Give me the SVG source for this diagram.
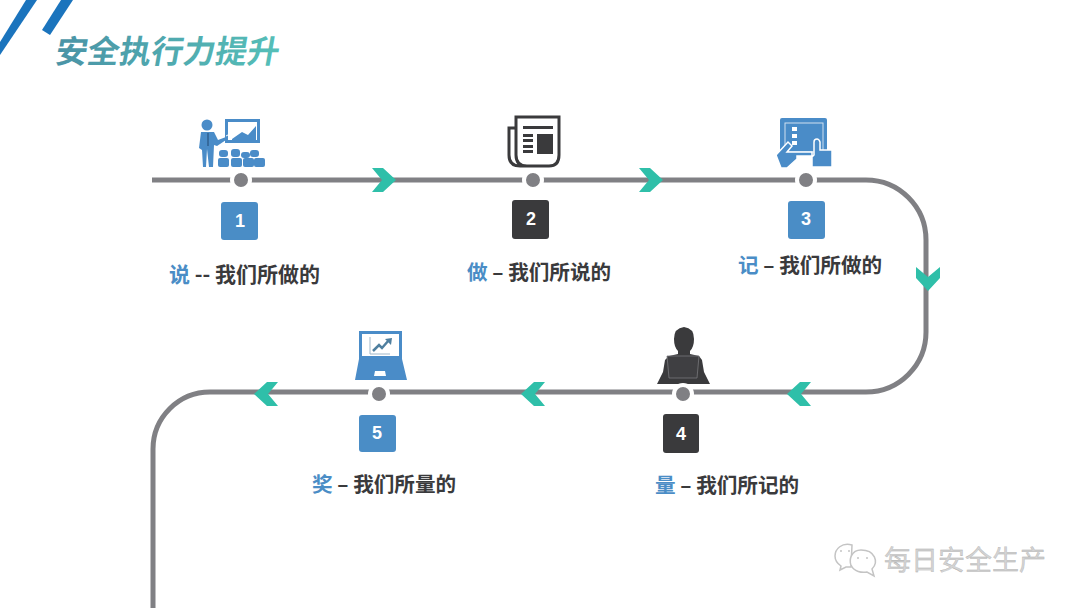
<svg xmlns="http://www.w3.org/2000/svg" width="1080" height="608" viewBox="0 0 1080 608">
<defs>
<linearGradient id="tg" x1="0" y1="0" x2="1" y2="0"><stop offset="0" stop-color="#4a93a6"/><stop offset="1" stop-color="#55bfb8"/></linearGradient>
<path id="chev" d="M-12,-12 H-1 L12,0 L-1,12 H-12 L-2,0 Z"/>
</defs>
<style>
text{font-family:"Liberation Sans","Noto Sans CJK SC",sans-serif}
.cjk{font-family:"Noto Sans CJK SC",sans-serif;font-weight:700;font-size:20.6px;fill:#3a3a3c}
.blue{fill:#4a8dc6}
.dark{fill:#3a3a3c}
.num{font-size:18px;font-weight:700;fill:#fff;text-anchor:middle}
.dot{fill:#808084;stroke:#fff;stroke-width:4}
.ch{fill:#2fbfa9}
.ib{fill:#4a8cc8}
.id{fill:#3a3a3c}
</style>
<rect width="1080" height="608" fill="#fff"/>
<g id="corner"><path d="M26,0 H37 L0,55 V42 Z" fill="#1b74bd"/><path d="M61,0 H73 L50,35 L42,30 Z" fill="#1b74bd"/></g>
<text x="54" y="63" font-size="32" font-weight="700" style="font-family:'Noto Sans CJK SC',sans-serif" fill="url(#tg)" transform="translate(11 0) skewX(-10)">安全执行力提升</text>
<g id="connectors">
<path d="M152,180 H866 A60,60 0 0 1 926,240 V332 A60,60 0 0 1 866,392 H210 A57,57 0 0 0 153,449 V608" fill="none" stroke="#808084" stroke-width="5"/>
<use href="#chev" class="ch" x="384" y="180"/>
<use href="#chev" class="ch" x="651" y="180"/>
<use href="#chev" class="ch" transform="translate(928 279) rotate(90)"/>
<use href="#chev" class="ch" transform="translate(799 394) rotate(180)"/>
<use href="#chev" class="ch" transform="translate(533 394) rotate(180)"/>
<use href="#chev" class="ch" transform="translate(266 394) rotate(180)"/>
</g>
<g id="node1">
<g class="ib"><circle cx="207" cy="125" r="5.5"/><path d="M201,132 H214 L218,140 L226,137 V140 L217,146 L214,145 L213,167 H209 L207,149 L206,167 H203 L202,150 L199,148 Z"/>
<path d="M225,119 H260 V143 H225 Z M228,122 V140 H257 V122 Z" fill-rule="evenodd"/><path d="M232,139 L242,132 L248,135 L256,126 V140 H232 Z"/>
<rect x="218" y="158" width="11" height="9" rx="2"/><rect x="231" y="158" width="11" height="9" rx="2"/><rect x="243" y="158" width="11" height="9" rx="2"/><rect x="254" y="158" width="11" height="9" rx="2"/>
<rect x="219" y="150" width="9" height="7" rx="3"/><rect x="231" y="149" width="9" height="8" rx="3"/><rect x="241" y="152" width="9" height="6" rx="3"/><rect x="250" y="150" width="9" height="7" rx="3"/></g>
<path d="M208,133 V146" stroke="#2f5f8f" stroke-width="1.5"/><path d="M226,136 L241,128" stroke="#fff" stroke-width="1"/>
<circle class="dot" cx="241" cy="180" r="9"/><rect class="blue" x="221" y="202" width="37" height="38" rx="3"/><text class="num" x="240" y="227">1</text>
<text class="cjk" style="font-size:21px" x="169" y="282"><tspan class="blue">说</tspan> -- 我们所做的</text></g>
<g id="node2">
<path d="M516,128 H509 V155 Q509,166 520,166 H549 Q559,166 559,155 V117 H516 V155 Q516,166 527,166" fill="none" stroke="#3a3a3c" stroke-width="3"/>
<g class="id"><rect x="523" y="126" width="30" height="3"/><rect x="523" y="134" width="10" height="3"/><rect x="523" y="139" width="10" height="3"/><rect x="523" y="145" width="10" height="3"/><rect x="523" y="150" width="10" height="3"/><rect x="537" y="134" width="16" height="20"/></g>
<circle class="dot" cx="533" cy="180" r="9"/><rect class="dark" x="512" y="200" width="37" height="39" rx="3"/><text class="num" x="531" y="225">2</text>
<text class="cjk" x="467" y="280"><tspan class="blue">做</tspan> – 我们所说的</text></g>
<g id="node3">
<rect class="ib" x="780" y="118" width="47" height="37" rx="2"/><rect x="785" y="123" width="38" height="29" fill="none" stroke="#cfe0f0" stroke-width="1"/>
<g fill="#fff"><rect x="792" y="127" width="5" height="4"/><rect x="792" y="134" width="5" height="4"/><rect x="792" y="141" width="5" height="4"/></g>
<path class="ib" stroke="#fff" stroke-width="1.5" d="M776,155 L788,142 L792,146 L787,152 H812 V156 H797 V159 L787,168 L781,168 Z"/>
<path class="ib" stroke="#fff" stroke-width="1.5" d="M814,142 Q814,139 817,139 Q819,139 820,142 V150 H832 V167 H812 V157 L814,155 Z"/>
<circle class="dot" cx="806" cy="180" r="9"/><rect class="blue" x="788" y="201" width="37" height="38" rx="3"/><text class="num" x="806" y="225">3</text>
<text class="cjk" x="738" y="273"><tspan class="blue">记</tspan> – 我们所做的</text></g>
<g id="node4">
<path class="id" d="M684,327 Q694,328 694,339 Q694,347 690,351 V354 L699,356 L702,360 L704,372 L710,384 H657 L663,372 L665,360 L669,356 L678,354 V351 Q674,347 674,339 Q674,328 684,327 Z"/>
<path d="M669,378 L667,356 H699 L697,378 Z" fill="#3f3f42" stroke="#77777b" stroke-width="0.8"/>
<circle class="dot" cx="683" cy="394" r="9"/><rect class="dark" x="663" y="414" width="36" height="39" rx="3"/><text class="num" x="681" y="440">4</text>
<text class="cjk" x="655" y="493"><tspan class="blue">量</tspan> – 我们所记的</text></g>
<g id="node5">
<path class="ib" d="M359,331 H402 V359 H359 Z M362,334 V356 H399 V334 Z M359,359 H402 L407,380 H355 Z M375,371 L374,376 H386 L385,371 Z" fill-rule="evenodd"/>
<path d="M370,337 V354 H390" fill="none" stroke="#9fb6c8" stroke-width="1"/><path d="M373,351 L379,345 L382,348 L389,340" fill="none" stroke="#4f7f9f" stroke-width="2.5"/><path d="M385,339 L392,338 L391,345 Z" fill="#4f7f9f"/>
<circle class="dot" cx="379" cy="394" r="9"/><rect class="blue" x="359" y="415" width="37" height="37" rx="3"/><text class="num" x="377" y="439">5</text>
<text class="cjk" x="312" y="492"><tspan class="blue">奖</tspan> – 我们所量的</text></g>
<g id="watermark"><g fill="#fff" stroke="#c4c4c4" stroke-width="1.5"><path d="M852,545 C842,542 835,549 835,556 C835,561 838,564 841,566 L840,570 L846,567 L851,567 Z"/><path d="M861,550 C851,550 849,560 851,565 C854,572 862,573 867,572 L874,576 L872,569 C879,562 875,550 861,550 Z"/></g>
<g fill="#c4c4c4"><circle cx="841" cy="551" r="1"/><circle cx="849" cy="551" r="1"/><circle cx="858" cy="558" r="1"/><circle cx="867" cy="558" r="1"/></g>
<text x="884" y="570" font-size="27" style="font-family:'Noto Sans CJK SC',sans-serif" fill="#d4d4d4" stroke="#a8a8a8" stroke-width="0.3">每日安全生产</text></g>
</svg>
